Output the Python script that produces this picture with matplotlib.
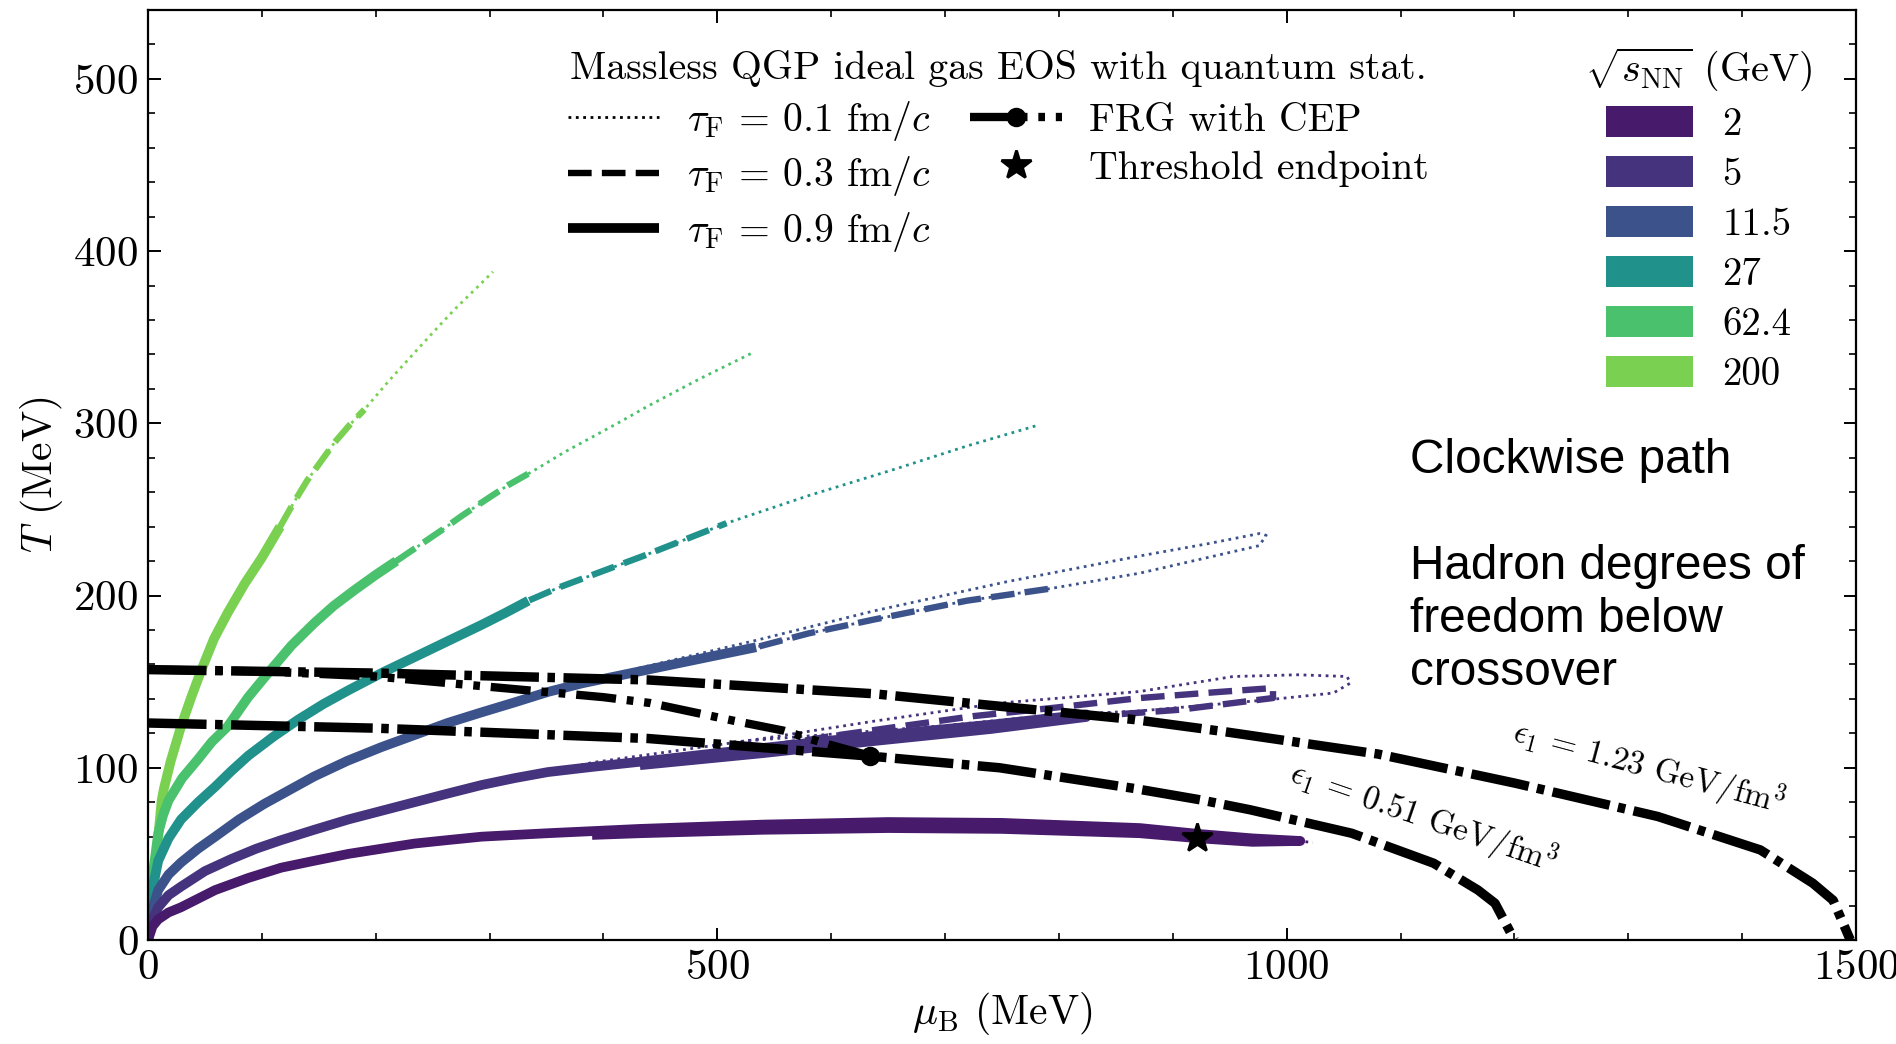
import numpy as np
import matplotlib
matplotlib.use('Agg')
import matplotlib.pyplot as plt
from matplotlib.lines import Line2D
from matplotlib.patches import Patch
from matplotlib.ticker import MultipleLocator

plt.rcParams['font.family'] = 'serif'
plt.rcParams['font.serif'] = ['cmr10']
plt.rcParams['mathtext.fontset'] = 'cm'
plt.rcParams['axes.formatter.use_mathtext'] = True

# collision energies (GeV) and colours
energies = ['2', '5', '11.5', '27', '62.4', '200']
colors = ['#481a6c', '#46337e', '#3b528b', '#21918c', '#4ac16d', '#7ad151']

# --- trajectories that do not loop: one path, each tau_F stops at some mu_B
mu_200 = [0, 3, 7, 12, 14, 20, 29, 38, 47, 58, 70, 85, 100, 116, 128, 140, 152, 164, 177, 190,
          212, 234, 252, 269, 286, 303]
T_200 = [0, 12, 46, 81, 88, 104, 124, 141, 157, 175, 190, 207, 222, 240, 254, 267, 278, 289, 299, 308,
         325, 341, 354, 366, 377, 388]
ends_200 = [303, 190, 116]   # tau_F = 0.1, 0.3, 0.9

mu_62 = [0, 2, 4, 9, 13, 18, 30, 44, 56, 70, 88, 108, 126, 146, 163, 181, 200, 218, 238, 258,
         275, 293, 316, 340, 365, 390, 415, 439, 485, 531]
T_62 = [0, 20, 37, 62, 72, 81, 94, 105, 115, 124, 141, 157, 171, 184, 194, 203, 212, 220, 229, 238,
        246, 254, 264, 273, 283, 292, 301, 310, 326, 341]
ends_62 = [531, 340, 218]

mu_27 = [0, 4, 9, 18, 29, 44, 59, 73, 88, 110, 132, 154, 176, 205, 227, 249, 271, 293, 314, 334,
         362, 435, 508, 580, 654, 720, 782]
T_27 = [0, 30, 46, 59, 70, 80, 89, 98, 107, 118, 128, 137, 145, 155, 162, 169, 176, 183, 190, 197,
        205, 223, 242, 258, 273, 287, 299]
ends_27 = [782, 508, 334]

# --- 11.5 GeV
mu_11_s = [0, 4, 9, 18, 29, 44, 59, 80, 102, 124, 146, 175, 205, 234, 263, 292, 322, 351, 381,
           410, 439, 490, 534]
T_11_s = [0, 18, 29, 38, 45, 53, 60, 70, 79, 87, 95, 104, 112, 119, 126, 132, 138, 144, 149,
          153, 157, 164, 170]
mu_11_d = mu_11_s + [580, 637, 719, 792]
T_11_d = T_11_s + [178, 186, 197, 204]
mu_11_o = mu_11_s[:-3] + [432, 534, 637, 754, 871, 930, 976, 982,
                          976, 871, 792, 719, 637, 580, 534]
T_11_o = T_11_s[:-3] + [158, 174, 191, 208, 223, 230, 236, 235,
                        229, 213, 204, 197, 186, 178, 170]

# --- 5 GeV
mu_5_in = [0, 4, 9, 18, 29, 50, 73, 95, 117, 146, 176, 205, 234, 263, 293, 322, 351, 390, 432]
T_5_in = [0, 12, 19, 26, 31, 40, 47, 53, 58, 64, 70, 75, 80, 85, 90, 94, 97.5, 100.5, 103.5]
mu_5_s = mu_5_in + [486, 540, 637, 740, 824, 824, 740, 637, 540, 432]
T_5_s = T_5_in + [107.5, 111.5, 118.5, 125, 131, 129.5, 122.5, 115.5, 108.5, 101.5]
mu_5_d = mu_5_in + [486, 540, 596, 660, 725, 798, 871, 940, 988, 988, 906, 830]
T_5_d = T_5_in + [107.5, 111.5, 118, 124, 130, 135, 140.5, 144, 146.3, 140.5, 133.7, 130]
mu_5_o = mu_5_in[:-2] + [390, 439, 540, 637, 748, 871, 953, 1010, 1053, 1056,
                         1041, 984, 871, 792, 700, 600, 514]
T_5_o = T_5_in[:-2] + [103, 107.6, 117, 127, 137.6, 144.3, 153, 154, 153, 149.2,
                       143.4, 139.5, 133, 130.5, 124.5, 119.5, 115]

# --- 2 GeV
mu_2_s = [0, 4, 9, 18, 29, 44, 59, 88, 117, 146, 176, 205, 234, 263, 293, 351, 432, 540, 650, 750,
          871, 924, 970, 1012, 970, 924, 871, 750, 650, 540, 432, 390]
T_2_s = [0, 8, 12, 16, 19, 24, 29, 36, 42, 46, 50, 53, 56, 58, 60, 62, 64.5, 67, 68.5, 68,
         65, 61.5, 59, 57.5, 57, 59, 62, 64.5, 65, 64, 62, 61]
mu_2_o = mu_2_s[:24] + [1023]
T_2_o = T_2_s[:24] + [56.5]

# --- FRG crossover line ending at the CEP
mu_frg = [0, 100, 200, 300, 400, 441, 513, 558, 593, 634]
T_frg = [157, 156, 153, 147, 141, 137.6, 127.5, 121.6, 114.4, 107]

# --- constant energy density lines
mu_e123 = [0, 200, 439, 637, 866, 945, 1080, 1201, 1326, 1416, 1462, 1480, 1495]
T_e123 = [157, 155, 151, 143, 128, 121, 108, 91, 71.7, 52.3, 33, 23, 0]
mu_e051 = [0, 200, 439, 637, 748, 866, 924, 968, 1057, 1129, 1168, 1183, 1200]
T_e051 = [126, 123, 117, 106.6, 100, 88, 81.4, 75.6, 62, 44.6, 29, 21.3, 0]

star_mu, star_T = 921, 59

tau_styles = {
    '0.1': dict(ls=':', lw=1.0),
    '0.3': dict(ls='--', lw=2.3),
    '0.9': dict(ls='-', lw=3.5, solid_capstyle='butt'),
}
frg_ls = (0, (4.8, 1.3, 0.8, 1.3, 0.8, 1.3))
eps_ls = (0, (6.2, 0.9, 0.8, 0.9))

fig = plt.figure(figsize=(9.48, 5.22), dpi=200)
ax = fig.add_axes([148 / 1896, 104 / 1044, 1708 / 1896, 930 / 1044])


def draw_path(mu, T, ends, color):
    mu = np.asarray(mu, dtype=float)
    T = np.asarray(T, dtype=float)
    for end, tau in zip(ends, ['0.1', '0.3', '0.9']):
        keep = mu <= end
        ax.plot(mu[keep], T[keep], color=color, **tau_styles[tau])


draw_path(mu_200, T_200, ends_200, colors[5])
draw_path(mu_62, T_62, ends_62, colors[4])
draw_path(mu_27, T_27, ends_27, colors[3])

ax.plot(mu_11_o, T_11_o, color=colors[2], **tau_styles['0.1'])
ax.plot(mu_11_d, T_11_d, color=colors[2], **tau_styles['0.3'])
ax.plot(mu_11_s, T_11_s, color=colors[2], **tau_styles['0.9'])

ax.plot(mu_5_o, T_5_o, color=colors[1], **tau_styles['0.1'])
ax.plot(mu_5_d, T_5_d, color=colors[1], **tau_styles['0.3'])
ax.plot(mu_5_s, T_5_s, color=colors[1], **tau_styles['0.9'])

ax.plot(mu_2_o, T_2_o, color=colors[0], **tau_styles['0.1'])
ax.plot(mu_2_s, T_2_s, color=colors[0], **tau_styles['0.9'])

ax.plot(mu_e123, T_e123, color='k', lw=3.4, ls=eps_ls, dash_capstyle='butt')
ax.plot(mu_e051, T_e051, color='k', lw=3.4, ls=eps_ls, dash_capstyle='butt')
ax.plot(mu_frg, T_frg, color='k', lw=3.0, ls=frg_ls, dash_capstyle='butt')
ax.plot(mu_frg[-1], T_frg[-1], 'o', color='k', ms=6)
ax.plot(star_mu, star_T, '*', color='k', ms=11, zorder=5)

ax.text(1318, 100, r'$\epsilon_1$ = 1.23 GeV/fm$^3$', rotation=-15, ha='center', va='center',
        fontsize=12)
ax.text(1120, 71, r'$\epsilon_1$ = 0.51 GeV/fm$^3$', rotation=-19, ha='center', va='center',
        fontsize=12)

ax.text(0.739, 0.540, 'Clockwise path\n\nHadron degrees of\nfreedom below\ncrossover',
        transform=ax.transAxes, ha='left', va='top', fontsize=17.2, family='Liberation Sans',
        linespacing=1.23)

ax.set_xlim(0, 1500)
ax.set_ylim(0, 540)
ax.xaxis.set_major_locator(MultipleLocator(500))
ax.xaxis.set_minor_locator(MultipleLocator(100))
ax.yaxis.set_major_locator(MultipleLocator(100))
ax.yaxis.set_minor_locator(MultipleLocator(20))
ax.tick_params(which='both', direction='in', top=True, right=True, labelsize=15.5)
ax.tick_params(which='major', length=4.5, width=0.7)
ax.tick_params(which='minor', length=2.5, width=0.6)
for s in ax.spines.values():
    s.set_linewidth(0.8)
ax.set_xlabel(r'$\mu_{\mathrm{B}}$ (MeV)', fontsize=15, labelpad=1)
ax.set_ylabel(r'$T$ (MeV)', fontsize=15, labelpad=3)

# legend: line styles
h = [Line2D([], [], color='k', **tau_styles['0.1']),
     Line2D([], [], color='k', **tau_styles['0.3']),
     Line2D([], [], color='k', **tau_styles['0.9']),
     Line2D([], [], color='k', lw=3.0, ls=frg_ls, marker='o', ms=6),
     Line2D([], [], color='k', ls='none', marker='*', ms=11)]
lab = [r'$\tau_{\mathrm{F}}$ = 0.1 fm/$c$', r'$\tau_{\mathrm{F}}$ = 0.3 fm/$c$',
       r'$\tau_{\mathrm{F}}$ = 0.9 fm/$c$', 'FRG with CEP', 'Threshold endpoint']
leg1 = ax.legend(h, lab, ncol=2, loc='upper center', bbox_to_anchor=(0.498, 0.995),
                 frameon=False, fontsize=14.3, title='Massless QGP ideal gas EOS with quantum stat.',
                 title_fontsize=14.3, handlelength=2.3, handletextpad=0.7, columnspacing=1.0,
                 labelspacing=0.29, numpoints=1)
ax.add_artist(leg1)

# legend: energies
ph = [Patch(facecolor=c, edgecolor='none') for c in colors]
ax.legend(ph, energies, loc='upper right', bbox_to_anchor=(0.995, 1.0), frameon=False,
          fontsize=14, title=r'$\sqrt{s_{\mathrm{NN}}}$ (GeV)', title_fontsize=14.5,
          handlelength=2.24, handleheight=0.87, handletextpad=0.75, labelspacing=0.33)

fig.savefig('out.png', dpi=200)
